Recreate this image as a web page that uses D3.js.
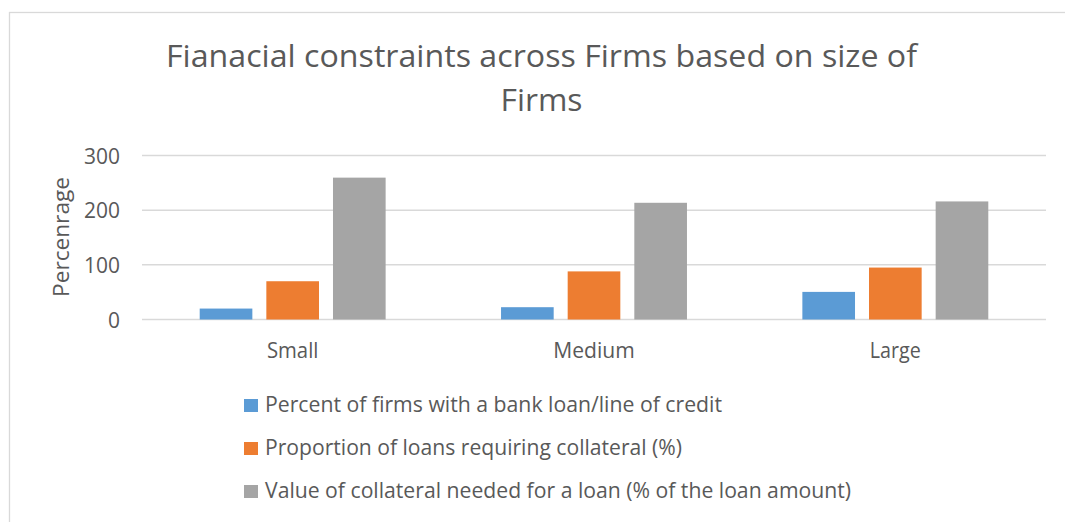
<!DOCTYPE html>
<html>
<head>
<meta charset="utf-8">
<script src="https://cdn.jsdelivr.net/npm/d3@7"></script>
<style>
  html, body { margin: 0; padding: 0; background: #fff; }
  svg text { font-family: "Open Sans", "Noto Sans", sans-serif; fill: #595959; }
</style>
</head>
<body>
<svg id="chart" width="1065" height="522"></svg>
<script>
// Firm size groups
const categories = ["Small", "Medium", "Large"];

// Series names (legend order)
const seriesNames = [
  "Percent of firms with a bank loan/line of credit",
  "Proportion of loans requiring collateral (%)",
  "Value of collateral needed for a loan (% of the loan amount)"
];

// Values per series, one per firm size
const bankLoan = [20, 22.5, 50.5];
const collateralRequired = [70, 88, 95];
const collateralValue = [259.5, 213.5, 216];

const yTicks = [0, 100, 200, 300];

const titleLines = ["Fianacial constraints across Firms based on size of", "Firms"];
const yTitle = "Percenrage";

const colors = ["#5B9BD5", "#ED7D31", "#A5A5A5"];
const seriesValues = [bankLoan, collateralRequired, collateralValue];

const svg = d3.select("#chart");

// Outer chart frame
svg.append("rect")
  .attr("x", 9.5).attr("y", 12.5)
  .attr("width", 1100).attr("height", 600)
  .attr("fill", "none").attr("stroke", "#d9d9d9").attr("stroke-width", 1.3);

const plot = { left: 142, right: 1046, top: 155.5, bottom: 319.5 };

const x0 = d3.scaleBand().domain(categories).range([plot.left, plot.right]).padding(0);
const inner = 57.7;
const x1 = d3.scaleBand().domain(d3.range(seriesNames.length))
  .range([inner, x0.bandwidth() - inner]).paddingInner(0.21).paddingOuter(0);
const y = d3.scaleLinear().domain([0, 300]).range([plot.bottom, plot.top]);

// Gridlines
svg.append("g").selectAll("line").data(yTicks).join("line")
  .attr("x1", plot.left).attr("x2", plot.right)
  .attr("y1", d => y(d)).attr("y2", d => y(d))
  .attr("stroke", "#d9d9d9").attr("stroke-width", 1.5);

// Y tick labels
const yAxis = d3.axisLeft(y).tickValues(yTicks).tickSize(0).tickPadding(0);
const yg = svg.append("g").attr("transform", `translate(120,0)`).call(yAxis);
yg.select(".domain").remove();
yg.selectAll("text")
  .attr("x", 0).attr("dy", "0.36em")
  .style("font-size", "21px").style("font-family", "'Open Sans', sans-serif").attr("fill", "#595959")
  .attr("textLength", d => String(d).length * 12).attr("lengthAdjust", "spacingAndGlyphs");

// Bars
const groups = svg.append("g").selectAll("g").data(categories).join("g")
  .attr("transform", d => `translate(${x0(d)},0)`);
groups.selectAll("rect")
  .data((c, ci) => seriesValues.map((vals, si) => ({ si, v: vals[ci] })))
  .join("rect")
  .attr("x", d => x1(d.si))
  .attr("width", x1.bandwidth())
  .attr("y", d => y(d.v))
  .attr("height", d => y(0) - y(d.v))
  .attr("fill", d => colors[d.si]);

// X category labels
const xLabelWidths = { Small: 51.5, Medium: 81.5, Large: 51 };
const xAxis = d3.axisBottom(x0).tickSize(0).tickPadding(0);
const xg = svg.append("g").attr("transform", `translate(0,358)`).call(xAxis);
xg.select(".domain").remove();
xg.selectAll("text")
  .attr("y", 0).attr("dy", 0)
  .style("font-size", "21px").style("font-family", "'Open Sans', sans-serif").attr("fill", "#595959")
  .attr("textLength", d => xLabelWidths[d]).attr("lengthAdjust", "spacingAndGlyphs");

// Title
svg.append("text").attr("x", 541.5).attr("y", 67).attr("text-anchor", "middle")
  .style("font-size", "31px").attr("textLength", 751).attr("lengthAdjust", "spacingAndGlyphs")
  .text(titleLines[0]);
svg.append("text").attr("x", 541.5).attr("y", 111).attr("text-anchor", "middle")
  .style("font-size", "31px").attr("textLength", 82).attr("lengthAdjust", "spacingAndGlyphs")
  .text(titleLines[1]);

// Y axis title
svg.append("text")
  .attr("transform", `translate(69,237) rotate(-90)`)
  .attr("text-anchor", "middle")
  .style("font-size", "21px").attr("textLength", 120).attr("lengthAdjust", "spacingAndGlyphs")
  .text(yTitle);

// Legend
const legendWidths = [457, 417, 586];
const legendY = [412, 455, 498];
const lg = svg.append("g").selectAll("g").data(seriesNames).join("g")
  .attr("transform", (d, i) => `translate(244,${legendY[i]})`);
lg.append("rect").attr("x", 0).attr("y", -13).attr("width", 14).attr("height", 13)
  .attr("fill", (d, i) => colors[i]);
lg.append("text").attr("x", 21).attr("y", 0)
  .style("font-size", "22px")
  .attr("textLength", (d, i) => legendWidths[i]).attr("lengthAdjust", "spacingAndGlyphs")
  .text(d => d);
</script>
</body>
</html>
